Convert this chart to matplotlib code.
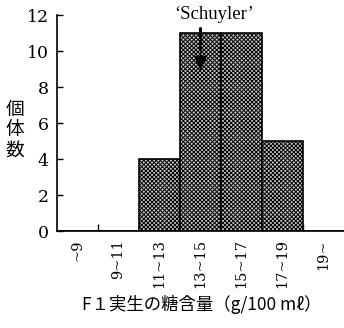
import matplotlib
matplotlib.use("Agg")
import matplotlib.pyplot as plt
import numpy as np

# sugar content classes of F1 seedlings and number of individuals
classes = ["~9", "9~11", "11~13", "13~15", "15~17", "17~19", "19~"]
counts = [0, 0, 4, 11, 11, 5, 0]
parent_label = "\u2018Schuyler\u2019"
parent_class = "13~15"

plt.rcParams["hatch.linewidth"] = 0.7
plt.rcParams["hatch.color"] = "#505050"

fig = plt.figure(figsize=(3.44, 3.28), dpi=100)
ax = fig.add_axes([57 / 344, 97 / 328, 287 / 344, 216 / 328])

x = np.arange(len(classes))
ax.bar(x, counts, width=1.0, color="#c8c8c8", edgecolor="black",
       linewidth=1.2, hatch="xxxxxxxx", zorder=2)

ax.set_xlim(-0.5, len(classes) - 0.5)
ax.set_ylim(0, 12)

for side in ["top", "right"]:
    ax.spines[side].set_visible(False)
ax.spines["left"].set_linewidth(1.2)
ax.spines["bottom"].set_linewidth(1.2)

serif = "DejaVu Serif"
ax.set_yticks(range(0, 13, 2))
ax.set_yticklabels([str(v) for v in range(0, 13, 2)], fontfamily=serif, fontsize=12.5)
ax.tick_params(axis="y", direction="in", length=4, width=1, pad=6)

ax.set_xticks(x)
ax.set_xticklabels(classes, rotation=90, fontfamily=serif, fontsize=10.5)
ax.tick_params(axis="x", which="major", length=0, pad=6)
ax.set_xticks(x[:-1] + 0.5, minor=True)
ax.tick_params(axis="x", which="minor", direction="in", length=5, width=1)

# arrow marking the parent cultivar
px = classes.index(parent_class)
ax.annotate("", xy=(px, 9.8), xytext=(px, 11.4),
            arrowprops=dict(arrowstyle="-", linestyle=(0, (1, 1)), lw=2.2, color="black"),
            annotation_clip=False, zorder=5)
ax.annotate("", xy=(px, 8.9), xytext=(px, 9.9),
            arrowprops=dict(arrowstyle="-|>,head_length=0.9,head_width=0.4", lw=1,
                            color="black", shrinkA=0, shrinkB=0),
            annotation_clip=False, zorder=5)
ax.text(px + 0.33, 12.05, parent_label, ha="center", va="center",
        fontfamily="Liberation Serif", fontsize=13.5, clip_on=False)

fig.text(15 / 344, 1 - 130 / 328, "個\n体\n数", ha="center", va="center",
         fontfamily=["Noto Sans CJK JP", "DejaVu Sans"], fontsize=13.5, linespacing=0.95)
fig.text(202 / 344, 1 - 304 / 328, "F１実生の糖含量（g/100 mℓ）", ha="center", va="center",
         fontfamily=["Noto Sans CJK JP", "DejaVu Sans"], fontsize=12.5)

fig.savefig("out.png", dpi=100)
